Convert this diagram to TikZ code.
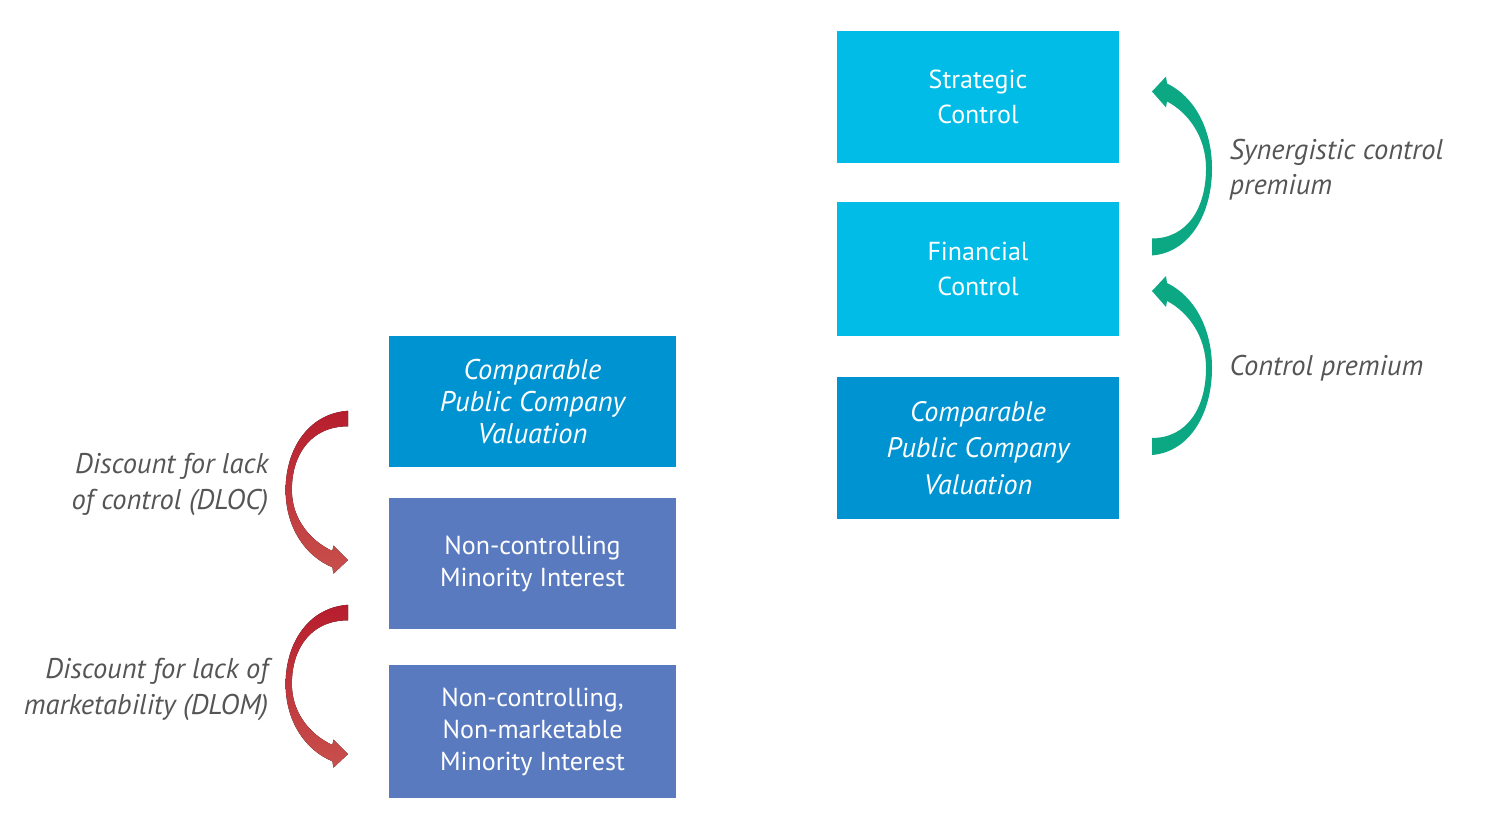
\documentclass[tikz,border=0pt]{standalone}
\usepackage{fontspec}
\setmainfont{PT Sans}
\definecolor{cyanbox}{HTML}{00BCE6}
\definecolor{bluebox}{HTML}{0093D2}
\definecolor{violetbox}{HTML}{5A7ABF}
\definecolor{premgreen}{HTML}{0CA884}
\definecolor{discdark}{HTML}{B71D2D}
\definecolor{disclight}{HTML}{C8504C}
\definecolor{labelgray}{HTML}{555555}
\tikzset{
    box/.style={fill=#1, text=white, align=center, inner sep=0pt,
        minimum width=2.82cm, minimum height=1.32cm,
        font=\fontsize{7.4}{9.96}\selectfont},
    lbl/.style={text=labelgray, inner sep=0pt,
        font=\itshape\fontsize{8.1}{9.96}\selectfont},
    crescent/.pic={
        \fill[pic actions] (0,87)
            .. controls (38,84) and (60,45) .. (60,0)
            .. controls (60,-40) and (42,-72) .. (15,-85)
            -- (14,-92) -- (0,-77) -- (14,-61) -- (15,-67)
            .. controls (36,-56) and (54,-32) .. (54,0)
            .. controls (54,40) and (35,70) .. (0,70)
            -- cycle;
    }
}
\begin{document}
\begin{tikzpicture}[x=0.01cm,y=-0.01cm]
    \useasboundingbox (0,0) rectangle (1485,825);

    % control side
    \node [box=cyanbox] (strategic) at (978,97) {Strategic\\Control};
    \node [box=cyanbox, minimum height=1.34cm] (financial) at (978,269) {Financial\\Control};
    \node [box=bluebox, minimum height=1.42cm, font=\itshape\fontsize{8}{10.3}\selectfont]
        (cpcvright) at (978,448) {Comparable\\Public Company\\Valuation};

    \pic [fill=premgreen] at (1152,168.5) {crescent};
    \pic [fill=premgreen] at (1152,368) {crescent};

    \node [lbl, anchor=west, align=left] (synprem) at (1229,169.5) {Synergistic control\\premium};
    \node [lbl, anchor=west] (ctrlprem) at (1229,368) {Control premium};

    % discount side
    \node [box=bluebox, minimum width=2.87cm, minimum height=1.31cm,
        font=\itshape\fontsize{8.1}{9.1}\selectfont]
        (cpcvleft) at (532.5,401.5) {Comparable\\Public Company\\Valuation};
    \node [box=violetbox, minimum width=2.87cm, minimum height=1.31cm,
        font=\fontsize{7.4}{9.1}\selectfont]
        (minority) at (532.5,563.5) {Non-controlling\\Minority Interest};
    \node [box=violetbox, minimum width=2.87cm, minimum height=1.33cm,
        font=\fontsize{7.4}{9.1}\selectfont]
        (nonmarket) at (532.5,731.5) {Non-controlling,\\Non-marketable\\Minority Interest};

    \pic [rotate=180, yscale=0.91, xscale=1.04, top color=discdark, bottom color=disclight] at (348,490) {crescent};
    \pic [rotate=180, yscale=0.91, xscale=1.04, top color=discdark, bottom color=disclight] at (348,684) {crescent};

    \node [lbl, anchor=east, align=right] (dloc) at (269,484.5) {Discount for lack\\of control (DLOC)};
    \node [lbl, anchor=east, align=right] (dlom) at (269,689.5) {Discount for lack of\\marketability (DLOM)};
\end{tikzpicture}
\end{document}
